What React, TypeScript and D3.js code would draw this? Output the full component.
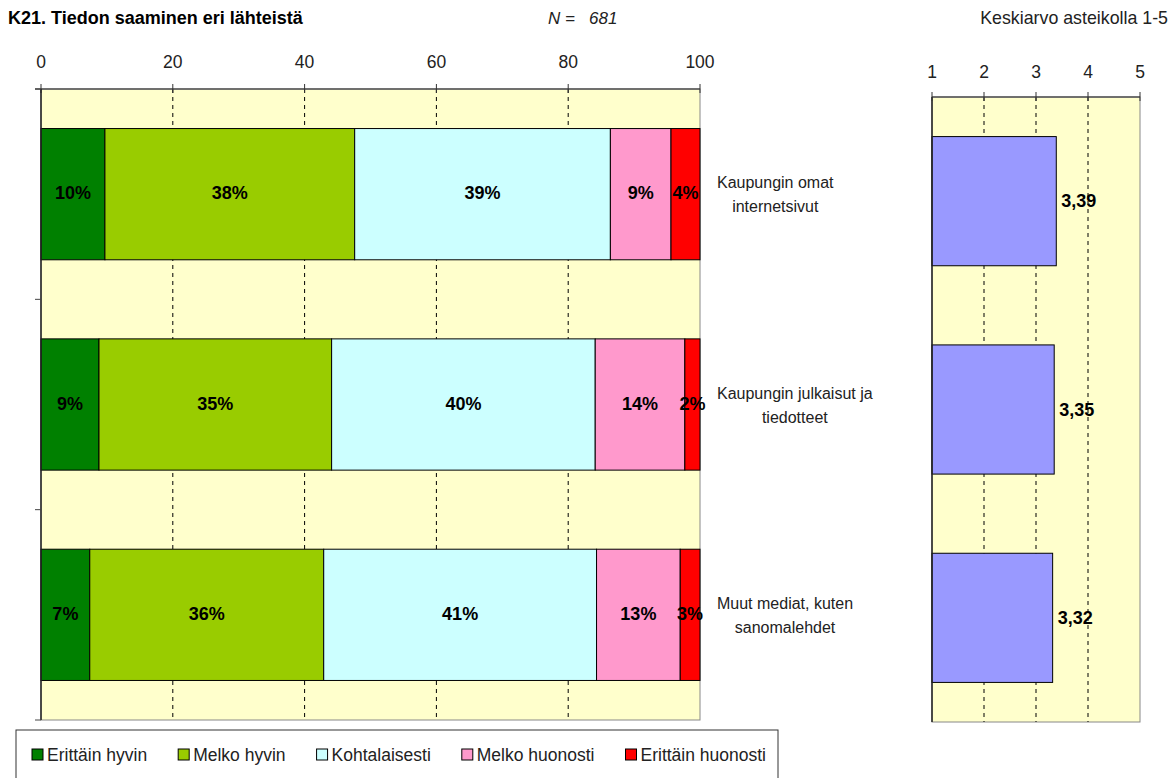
import React from "react";
import * as d3 from "d3";

const categories = [
  ["Kaupungin omat", "internetsivut"],
  ["Kaupungin julkaisut ja", "tiedotteet"],
  ["Muut mediat, kuten", "sanomalehdet"],
];
const seriesNames = ["Erittäin hyvin", "Melko hyvin", "Kohtalaisesti", "Melko huonosti", "Erittäin huonosti"];
const seriesColors = ["#008000", "#99CC00", "#CCFFFF", "#FF99CC", "#FF0000"];
const erittainHyvin = [9.7, 8.8, 7.4];
const melkoHyvin = [37.9, 35.3, 35.5];
const kohtalaisesti = [38.8, 40.0, 41.4];
const melkoHuonosti = [9.2, 13.6, 12.7];
const erittainHuonosti = [4.4, 2.3, 3.0];
const means = [3.39, 3.35, 3.32];
const pctTicks = [0, 20, 40, 60, 80, 100];
const meanTicks = [1, 2, 3, 4, 5];

const FONT = "'Liberation Sans', Arial, sans-serif";

function measure(text: string, font: string): number {
  const c = document.createElement("canvas");
  const ctx = c.getContext("2d")!;
  ctx.font = font;
  return ctx.measureText(text).width;
}

export default function App() {
  const W = 1174, H = 778;
  const series = [erittainHyvin, melkoHyvin, kohtalaisesti, melkoHuonosti, erittainHuonosti];
  const idx = categories.map((_, i) => i);

  // left panel
  const L = { x0: 41, x1: 700, y0: 89, y1: 720 };
  const x = d3.scaleLinear().domain([0, 100]).range([L.x0, L.x1]);
  const y = d3.scaleBand<number>().domain(idx).range([L.y0, L.y1]).paddingInner(0.376).paddingOuter(0.188);
  const yBounds = d3.range(categories.length + 1).map((i) => L.y0 + (i * (L.y1 - L.y0)) / categories.length);

  const stackData = idx.map((i) => {
    const o: any = { i };
    seriesNames.forEach((n, s) => (o[n] = series[s][i]));
    return o;
  });
  const stacked = d3.stack<any>().keys(seriesNames)(stackData);

  // right panel
  const R = { x0: 932, x1: 1140, y0: 97, y1: 722 };
  const xm = d3.scaleLinear().domain([1, 5]).range([R.x0, R.x1]);
  const ym = d3.scaleBand<number>().domain(idx).range([R.y0, R.y1]).paddingInner(0.38).paddingOuter(0.19);

  const catFont = `16px ${FONT}`;
  const legFont = `17.5px ${FONT}`;

  // legend layout
  let lx = 32;
  const legendItems = seriesNames.map((n, s) => {
    const w = measure(n, legFont);
    const item = { n, s, x: lx, w };
    lx += 15 + w + 31;
    return item;
  });

  return (
    <svg width={W} height={H} style={{ position: "absolute", left: 0, top: 0, background: "#fff" }} fontFamily={FONT}>
      {/* titles */}
      <text x={8} y={24} fontSize={18} fontWeight="bold" fill="#000">K21. Tiedon saaminen eri lähteistä</text>
      <text x={548} y={24} fontSize={17} fontStyle="italic" fill="#222" xmlSpace="preserve">N =   681</text>
      <text x={1168} y={24} fontSize={17.8} textAnchor="end" fill="#222">Keskiarvo asteikolla 1-5</text>

      {/* left plot background */}
      <rect x={L.x0} y={L.y0} width={L.x1 - L.x0} height={L.y1 - L.y0} fill="#FFFFCC" stroke="#888" strokeWidth={1} />
      {pctTicks.slice(1, -1).map((t) => (
        <line key={t} x1={x(t)} x2={x(t)} y1={L.y0} y2={L.y1} stroke="#000" strokeDasharray="4,4" strokeWidth={1} />
      ))}
      {/* bars */}
      {stacked.map((layer, s) =>
        layer.map((d, i) => (
          <rect key={`${s}-${i}`} x={x(d[0])} y={y(i)!} width={x(d[1]) - x(d[0])} height={y.bandwidth()}
            fill={seriesColors[s]} stroke="#000" strokeWidth={1} />
        ))
      )}
      {stacked.map((layer, s) =>
        layer.map((d, i) => (
          <text key={`t${s}-${i}`} x={(x(d[0]) + x(d[1])) / 2} y={y(i)! + y.bandwidth() / 2 + 5}
            textAnchor="middle" fontSize={18} fontWeight="bold" fill="#000">
            {Math.round(d[1] - d[0])}%
          </text>
        ))
      )}
      {/* top axis */}
      <line x1={L.x0 - 6} x2={L.x1} y1={L.y0} y2={L.y0} stroke="#555" strokeWidth={1.5} />
      {pctTicks.map((t) => (
        <g key={t}>
          <line x1={x(t)} x2={x(t)} y1={L.y0 - 5} y2={L.y0 + 4} stroke="#333" strokeWidth={1} />
          <text x={x(t)} y={68} textAnchor="middle" fontSize={17.5} fill="#222">{t}</text>
        </g>
      ))}
      {/* left axis */}
      <line x1={L.x0} x2={L.x0} y1={L.y0} y2={L.y1} stroke="#222" strokeWidth={1.5} />
      {yBounds.map((b, i) => (
        <line key={i} x1={L.x0 - 6} x2={L.x0} y1={b} y2={b} stroke="#444" strokeWidth={1} />
      ))}
      {/* category labels */}
      {categories.map((lines, i) => {
        const maxW = d3.max(lines, (l) => measure(l, catFont))!;
        const cx = 717 + maxW / 2;
        const cy = y(i)! + y.bandwidth() / 2;
        return (
          <g key={i}>
            {lines.map((l, j) => (
              <text key={j} x={cx} y={cy + 1 + (j - (lines.length - 1) / 2) * 24 + 5} textAnchor="middle" fontSize={16} fill="#222">{l}</text>
            ))}
          </g>
        );
      })}

      {/* right plot */}
      <rect x={R.x0} y={R.y0} width={R.x1 - R.x0} height={R.y1 - R.y0} fill="#FFFFCC" stroke="#888" strokeWidth={1} />
      {meanTicks.slice(1, -1).map((t) => (
        <line key={t} x1={xm(t)} x2={xm(t)} y1={R.y0} y2={R.y1} stroke="#000" strokeDasharray="4,4" strokeWidth={1} />
      ))}
      {means.map((m, i) => (
        <g key={i}>
          <rect x={xm(1)} y={ym(i)!} width={xm(m) - xm(1)} height={ym.bandwidth()} fill="#9999FF" stroke="#000" strokeWidth={1} />
          <text x={xm(m) + 5} y={ym(i)! + ym.bandwidth() / 2 + 6} fontSize={18} fontWeight="bold" fill="#000">
            {m.toFixed(2).replace(".", ",")}
          </text>
        </g>
      ))}
      <line x1={R.x0} x2={R.x1} y1={R.y0} y2={R.y0} stroke="#555" strokeWidth={1.5} />
      <line x1={R.x0} x2={R.x0} y1={R.y0} y2={R.y1} stroke="#222" strokeWidth={1.5} />
      {meanTicks.map((t) => (
        <g key={t}>
          <line x1={xm(t)} x2={xm(t)} y1={R.y0 - 5} y2={R.y0 + 4} stroke="#333" strokeWidth={1} />
          <text x={xm(t)} y={78} textAnchor="middle" fontSize={17.5} fill="#222">{t}</text>
        </g>
      ))}

      {/* legend */}
      <rect x={16} y={730} width={762} height={60} fill="#fff" stroke="#333" strokeWidth={1} />
      {legendItems.map((it) => (
        <g key={it.n}>
          <rect x={it.x} y={749} width={11} height={11} fill={seriesColors[it.s]} stroke="#000" strokeWidth={1} />
          <text x={it.x + 15} y={761} fontSize={17.5} fill="#222">{it.n}</text>
        </g>
      ))}
    </svg>
  );
}
